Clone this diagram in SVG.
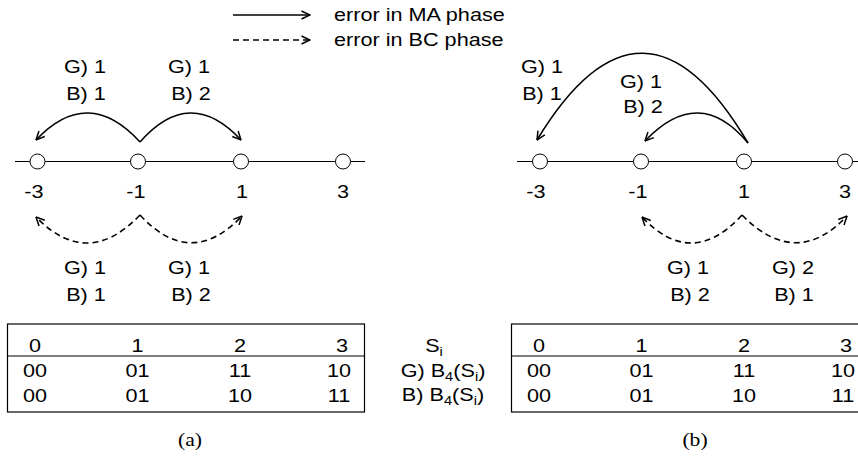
<svg xmlns="http://www.w3.org/2000/svg" width="858" height="469" viewBox="0 0 858 469">
<style>
text{font-family:"Liberation Sans",Arial,sans-serif;font-size:18.5px;fill:#000;text-anchor:middle}
.st{text-anchor:start}
.cap{font-family:"Liberation Serif","Times New Roman",serif}
.sub{font-size:12.5px}
.axis{stroke:#000;stroke-width:1;fill:none}
.node{fill:#fff;stroke:#000;stroke-width:1}
.arc{fill:none;stroke:#000;stroke-width:1.6;marker-end:url(#ah)}
.dash{stroke-dasharray:6,4}
.tbl{fill:none;stroke:#000;stroke-width:1.2}
</style>
<defs>
<marker id="ah" viewBox="0 0 10 10" refX="9.5" refY="5" markerWidth="10" markerHeight="10" markerUnits="userSpaceOnUse" orient="auto">
<path d="M1,1 L9.5,5 L1,9" fill="none" stroke="#000" stroke-width="1.5"/>
</marker>
</defs>
<rect width="858" height="469" fill="#fff"/>

<g id="legend">
<path class="arc" d="M233,15 L310,15"/>
<path class="arc dash" d="M233,40 L310,40"/>
<text class="st" transform="matrix(1.17 0 0 1 334 21)">error in MA phase</text>
<text class="st" transform="matrix(1.17 0 0 1 334 46)">error in BC phase</text>
</g>

<g id="axes">
<path class="axis" d="M15,161.5 H365"/>
<path class="axis" d="M517,161.5 H858"/>
</g>

<g id="connectors">
<path class="arc" d="M140,142 Q88,85 36,140"/>
<path class="arc" d="M140,142 Q190,85 241,140"/>
<path class="arc dash" d="M140,215 Q87.5,270 36,217"/>
<path class="arc dash" d="M140,215 Q190.5,270 242,216"/>
<path class="arc" d="M748,143 Q643,-35 537,140"/>
<path class="arc" d="M748,143 Q699,84 645,141"/>
<path class="arc dash" d="M742,215 Q692,270 642,217"/>
<path class="arc dash" d="M742,215 Q796,270 847,216"/>
</g>

<g id="a-node-m3"><circle class="node" cx="37.5" cy="161.5" r="7.5"/><text transform="matrix(1.17 0 0 1 34 198)">-3</text></g>
<g id="a-node-m1"><circle class="node" cx="138" cy="161.5" r="7.5"/><text transform="matrix(1.17 0 0 1 136 198)">-1</text></g>
<g id="a-node-p1"><circle class="node" cx="241" cy="161.5" r="7.5"/><text transform="matrix(1.17 0 0 1 242 198)">1</text></g>
<g id="a-node-p3"><circle class="node" cx="343" cy="161.5" r="7.5"/><text transform="matrix(1.17 0 0 1 343 198)">3</text></g>

<g id="b-node-m3"><circle class="node" cx="540" cy="161.5" r="7.5"/><text transform="matrix(1.17 0 0 1 536 198)">-3</text></g>
<g id="b-node-m1"><circle class="node" cx="641" cy="161.5" r="7.5"/><text transform="matrix(1.17 0 0 1 638 198)">-1</text></g>
<g id="b-node-p1"><circle class="node" cx="744" cy="161.5" r="7.5"/><text transform="matrix(1.17 0 0 1 744 198)">1</text></g>
<g id="b-node-p3"><circle class="node" cx="845" cy="161.5" r="7.5"/><text transform="matrix(1.17 0 0 1 845 198)">3</text></g>

<g id="a-labels">
<text transform="matrix(1.17 0 0 1 85 73)">G) 1</text>
<text transform="matrix(1.17 0 0 1 86 100)">B) 1</text>
<text transform="matrix(1.17 0 0 1 189 73)">G) 1</text>
<text transform="matrix(1.17 0 0 1 191 100)">B) 2</text>
<text transform="matrix(1.17 0 0 1 85 274)">G) 1</text>
<text transform="matrix(1.17 0 0 1 86 301)">B) 1</text>
<text transform="matrix(1.17 0 0 1 189 274)">G) 1</text>
<text transform="matrix(1.17 0 0 1 191 301)">B) 2</text>
</g>

<g id="b-labels">
<text transform="matrix(1.17 0 0 1 542 73)">G) 1</text>
<text transform="matrix(1.17 0 0 1 542 100)">B) 1</text>
<text transform="matrix(1.17 0 0 1 641 88)">G) 1</text>
<text transform="matrix(1.17 0 0 1 643 113)">B) 2</text>
<text transform="matrix(1.17 0 0 1 688 274)">G) 1</text>
<text transform="matrix(1.17 0 0 1 690 301)">B) 2</text>
<text transform="matrix(1.17 0 0 1 793 274)">G) 2</text>
<text transform="matrix(1.17 0 0 1 794 301)">B) 1</text>
</g>

<g id="row-labels">
<text transform="matrix(1.17 0 0 1 434 352)">S<tspan class="sub" dy="4">i</tspan></text>
<text transform="matrix(1.17 0 0 1 443 377)">G) B<tspan class="sub" dy="4">4</tspan><tspan dy="-4">(S</tspan><tspan class="sub" dy="4">i</tspan><tspan dy="-4">)</tspan></text>
<text transform="matrix(1.17 0 0 1 443 401)">B) B<tspan class="sub" dy="4">4</tspan><tspan dy="-4">(S</tspan><tspan class="sub" dy="4">i</tspan><tspan dy="-4">)</tspan></text>
</g>

<g id="a-table">
<rect class="tbl" x="7.5" y="324" width="357" height="88"/>
<path class="tbl" d="M7.5,356 H364.5"/>
<text transform="matrix(1.17 0 0 1 35 352)">0</text>
<text transform="matrix(1.17 0 0 1 137.5 352)">1</text>
<text transform="matrix(1.17 0 0 1 240 352)">2</text>
<text transform="matrix(1.17 0 0 1 342 352)">3</text>
<text transform="matrix(1.17 0 0 1 35 377)">00</text>
<text transform="matrix(1.17 0 0 1 137.5 377)">01</text>
<text transform="matrix(1.17 0 0 1 240 377)">11</text>
<text transform="matrix(1.17 0 0 1 339 377)">10</text>
<text transform="matrix(1.17 0 0 1 35 402)">00</text>
<text transform="matrix(1.17 0 0 1 137.5 402)">01</text>
<text transform="matrix(1.17 0 0 1 240 402)">10</text>
<text transform="matrix(1.17 0 0 1 339 402)">11</text>
</g>

<g id="b-table">
<rect class="tbl" x="511.5" y="324" width="357" height="88"/>
<path class="tbl" d="M511.5,356 H868"/>
<text transform="matrix(1.17 0 0 1 539 352)">0</text>
<text transform="matrix(1.17 0 0 1 641.5 352)">1</text>
<text transform="matrix(1.17 0 0 1 744 352)">2</text>
<text transform="matrix(1.17 0 0 1 846 352)">3</text>
<text transform="matrix(1.17 0 0 1 539 377)">00</text>
<text transform="matrix(1.17 0 0 1 641.5 377)">01</text>
<text transform="matrix(1.17 0 0 1 744 377)">11</text>
<text transform="matrix(1.17 0 0 1 843 377)">10</text>
<text transform="matrix(1.17 0 0 1 539 402)">00</text>
<text transform="matrix(1.17 0 0 1 641.5 402)">01</text>
<text transform="matrix(1.17 0 0 1 744 402)">10</text>
<text transform="matrix(1.17 0 0 1 843 402)">11</text>
</g>

<g id="captions">
<text class="cap" transform="matrix(1.17 0 0 1 190 446)">(a)</text>
<text class="cap" transform="matrix(1.17 0 0 1 695 446)">(b)</text>
</g>
</svg>
